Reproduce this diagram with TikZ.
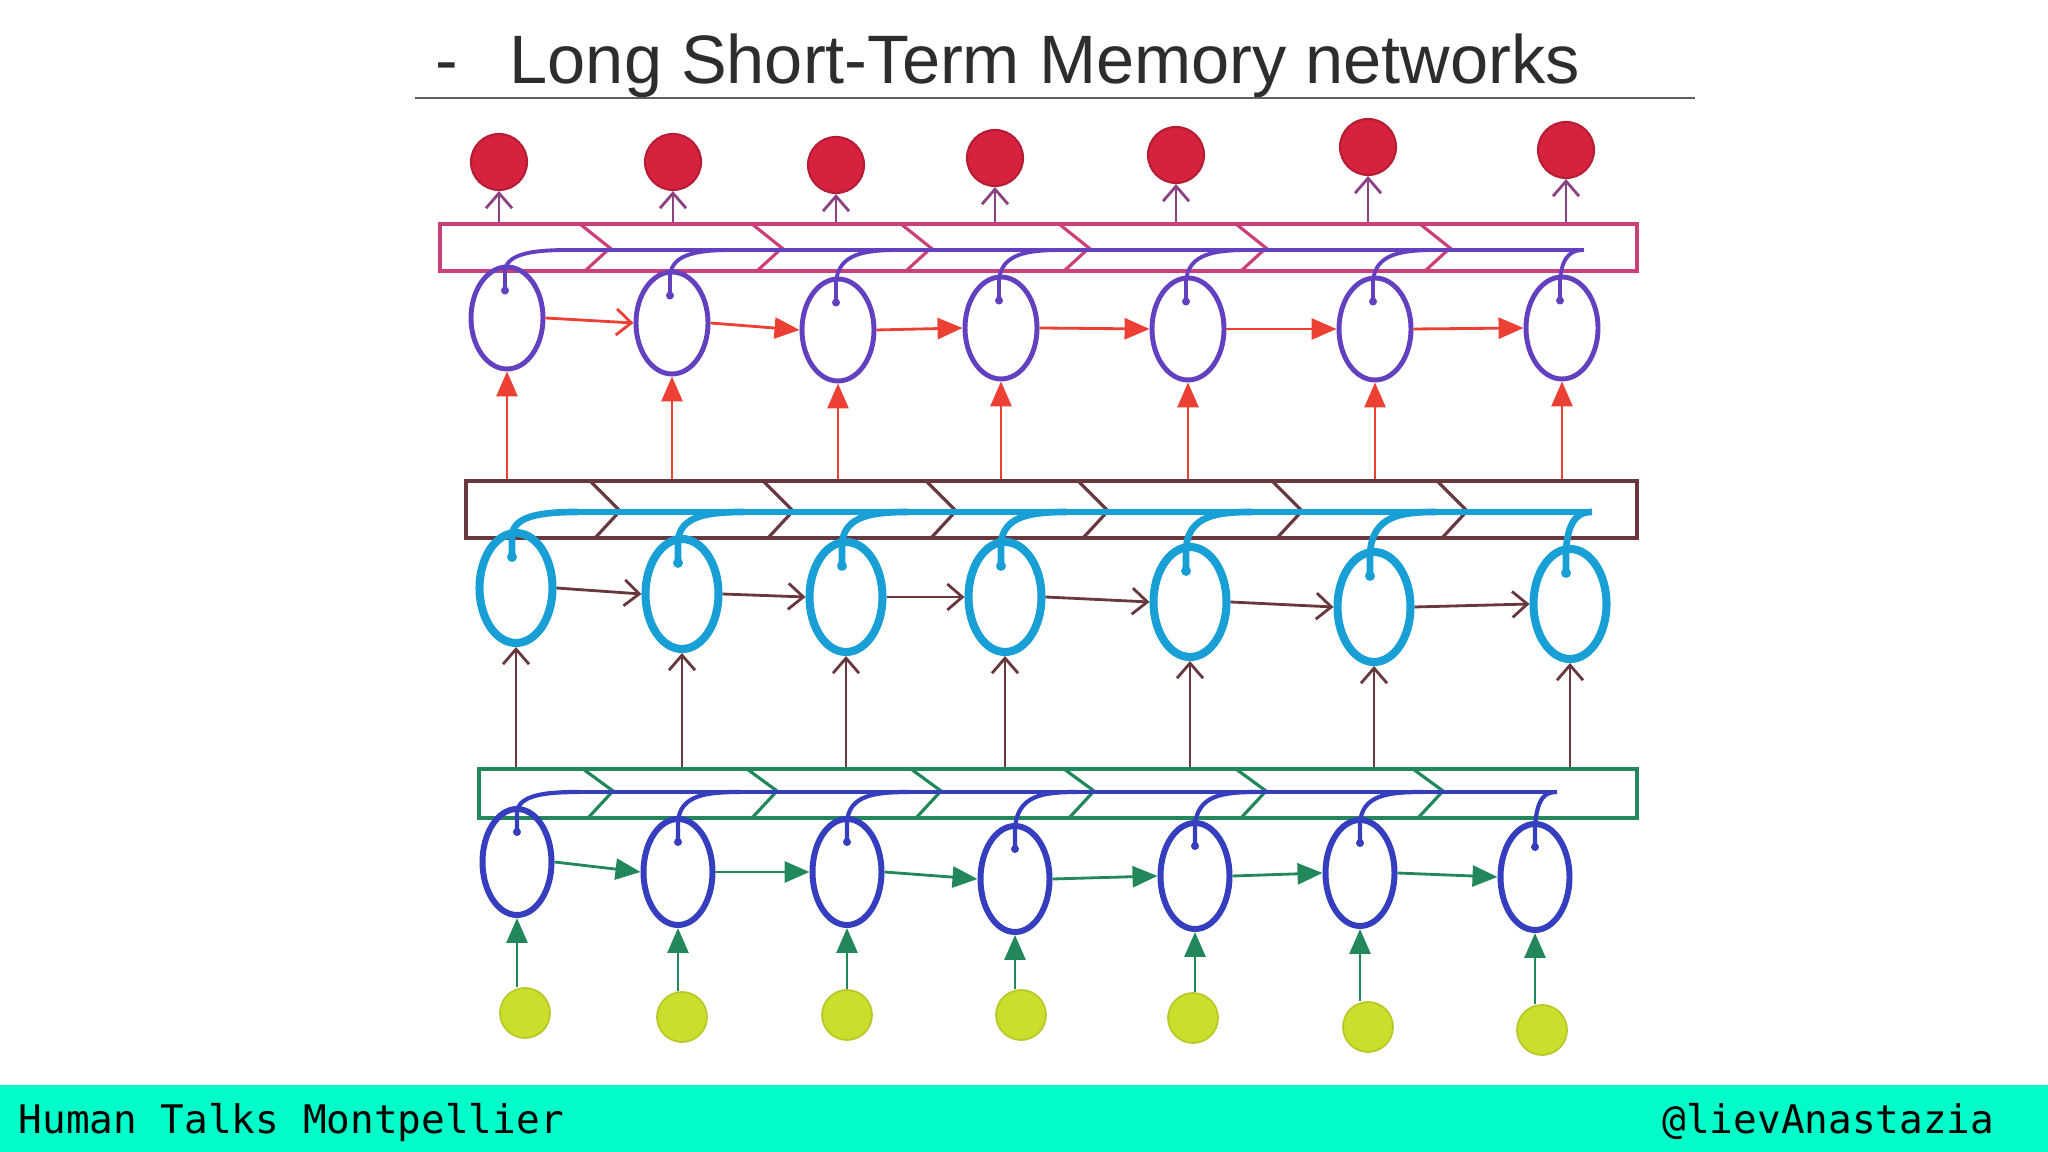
\documentclass[tikz,border=0pt]{standalone}
\usepackage{fontspec}
\setmainfont{Liberation Sans}
\newfontfamily\footfont{DejaVu Sans Mono}
\usetikzlibrary{calc,arrows.meta,shapes.geometric}

\definecolor{titlegray}{RGB}{45,45,45}
\definecolor{rulegray}{RGB}{95,95,95}
\definecolor{footteal}{RGB}{0,252,200}
\definecolor{outred}{RGB}{214,34,62}
\definecolor{barpink}{RGB}{204,64,122}
\definecolor{arrpurple}{RGB}{140,66,128}
\definecolor{cellpurple}{RGB}{98,64,192}
\definecolor{arrred}{RGB}{236,64,52}
\definecolor{midbrown}{RGB}{104,56,62}
\definecolor{cellcyan}{RGB}{24,160,214}
\definecolor{botgreen}{RGB}{34,136,92}
\definecolor{cellblue}{RGB}{52,62,190}
\definecolor{inyellow}{RGB}{204,222,44}

\tikzset{
	outball/.style={circle, fill=outred, draw=outred!85!black, line width=0.6pt, minimum size=5.6mm, inner sep=0pt},
	inball/.style={circle, fill=inyellow, draw=inyellow!90!black, line width=0.5pt, minimum size=5mm, inner sep=0pt},
	topcell/.style={ellipse, draw=cellpurple, line width=1.4pt, minimum width=7.2mm, minimum height=10.2mm, inner sep=0pt},
	midcell/.style={ellipse, draw=cellcyan, line width=2.3pt, minimum width=7.3mm, minimum height=11mm, inner sep=0pt},
	botcell/.style={ellipse, draw=cellblue, line width=1.7pt, minimum width=6.9mm, minimum height=10.6mm, inner sep=0pt},
	barbox/.style={rectangle, draw=#1, line width=1pt, inner sep=0pt},
	chevron/.style={draw=#1, line width=0.9pt},
	fillhead/.style={-{Triangle[length=2.5mm,width=2.1mm]}},
	openhead/.style={-{Straight Barb[length=1.5mm,width=2.6mm]}},
	link/.style={draw=#1, line width=0.8pt}
}

\begin{document}
\begin{tikzpicture}[x=0.1mm, y=-0.1mm]
	%%%%% START %%%%%
	\fill[white] (0,0) rectangle (2048,1152);
	\useasboundingbox (0,0) rectangle (2048,1152);
	
	\node[anchor=base west, inner sep=0pt, text=titlegray, font=\fontsize{19.35}{23}\selectfont] (bullet) at (435,84) {-};
	\node[anchor=base west, inner sep=0pt, text=titlegray, font=\fontsize{19.5}{23}\selectfont] (title) at (509,84) {Long Short-Term Memory networks};
	\draw[rulegray, line width=0.6pt] (415,98) -- (1695,98);
	
	% bars
	\node[barbox=barpink, minimum width=119.7mm, minimum height=4.7mm] (bartop) at (1038.5,247.5) {};
	\node[barbox=midbrown, minimum width=117.1mm, minimum height=5.7mm] (barmid) at (1051.5,509.5) {};
	\node[barbox=botgreen, minimum width=115.8mm, minimum height=4.9mm] (barbot) at (1058,793.5) {};
	
	\foreach \t in {610,782,931,1089,1266,1450}
		\draw[chevron=barpink] (\t-30,224) -- (\t,248) -- (\t-25,271);
	\foreach \t in {620,793,956,1108,1302,1467}
		\draw[chevron=midbrown] (\t-30,481) -- (\t,511) -- (\t-25,538);
	\foreach \t in {613,777,941,1094,1266,1443}
		\draw[chevron=botgreen] (\t-30,769) -- (\t,791) -- (\t-25,818);
	
	% cells
	\foreach \n/\x/\y in {1/499/162, 2/673/162, 3/836/165, 4/995/158, 5/1176/155, 6/1368/147, 7/1566/150}
		\node[outball] (out\n) at (\x,\y) {};
	\foreach \n/\x/\y in {1/507/318, 2/672/323, 3/838/330, 4/1001/328, 5/1188/329, 6/1375/329, 7/1562/328}
		\node[topcell] (top\n) at (\x,\y) {};
	\foreach \n/\x/\y in {1/516/588, 2/682/594, 3/846/597, 4/1005/597, 5/1190/602, 6/1374/607, 7/1570/604}
		\node[midcell] (mid\n) at (\x,\y) {};
	\foreach \n/\x/\y in {1/517/862, 2/678/872, 3/847/872, 4/1015/879, 5/1195/876, 6/1360/873, 7/1535/877}
		\node[botcell] (bot\n) at (\x,\y) {};
	\foreach \n/\x/\y in {1/525/1013, 2/682/1017, 3/847/1015, 4/1021/1015, 5/1193/1018, 6/1368/1027, 7/1542/1030}
		\node[inball] (in\n) at (\x,\y) {};
	
	% cell state lines
	\coordinate (mtop) at (0,250);
	\coordinate (mmid) at (0,512);
	\coordinate (mbot) at (0,792);
	\foreach \n/\o/\c in {1/62/28,2/62/28,3/62/28,4/62/28,5/62/28,6/62/28,7/22/12} {
		\fill[cellpurple] ($(top\n.north)+(-2,26)$) circle (4);
		\draw[cellpurple, line width=1.1pt] ($(top\n.north)+(-2,26)$) -- ($(top\n.north)+(-2,6)$) .. controls ($(top\n.north |- mtop)+(0,3)$) and ($(top\n.north |- mtop)+(\c,0)$) .. ($(top\n.north |- mtop)+(\o,0)$);
		\fill[cellcyan] ($(mid\n.north)+(-4,28)$) circle (5);
		\draw[cellcyan, line width=1.9pt] ($(mid\n.north)+(-4,28)$) -- ($(mid\n.north)+(-4,6)$) .. controls ($(mid\n.north |- mmid)+(-2,3)$) and ($(mid\n.north |- mmid)+(\c,0)$) .. ($(mid\n.north |- mmid)+(\o,0)$);
		\fill[cellblue] ($(bot\n.north)+(0,26)$) circle (4);
		\draw[cellblue, line width=1.2pt] ($(bot\n.north)+(0,26)$) -- ($(bot\n.north)+(0,6)$) .. controls ($(bot\n.north |- mbot)+(2,3)$) and ($(bot\n.north |- mbot)+(\c,0)$) .. ($(bot\n.north |- mbot)+(\o,0)$);
	}
	\draw[cellpurple, line width=1.1pt] ($(top1.north |- mtop)+(62,0)$) -- ($(top7.north |- mtop)+(22,0)$);
	\draw[cellcyan, line width=1.9pt] ($(mid1.north |- mmid)+(62,0)$) -- ($(mid7.north |- mmid)+(22,0)$);
	\draw[cellblue, line width=1.2pt] ($(bot1.north |- mbot)+(62,0)$) -- ($(bot7.north |- mbot)+(22,0)$);
	
	% arrows
	\foreach \n in {1,...,7} {
		\draw[link=arrpurple, openhead] (out\n.south |- bartop.north) -- (out\n.south);
		\draw[link=arrred, fillhead] (top\n.south |- barmid.north) -- (top\n.south);
		\draw[link=midbrown, openhead] (mid\n.south |- barbot.north) -- (mid\n.south);
		\draw[link=botgreen, fillhead] (bot\n.south |- in\n.north) -- (bot\n.south);
	}
	\foreach \n [count=\m from 2] in {1,...,6} {
		\ifnum\n=1
			\draw[link=arrred, openhead] (top\n.east) -- (top\m.west);
		\else
			\draw[link=arrred, fillhead] (top\n.east) -- (top\m.west);
		\fi
		\draw[link=midbrown, openhead] (mid\n.east) -- (mid\m.west);
		\draw[link=botgreen, fillhead] (bot\n.east) -- (bot\m.west);
	}
	
	% footer
	\fill[footteal] (0,1085) rectangle (2048,1152);
	\node[anchor=base west, inner sep=0pt, font=\footfont\fontsize{11.2}{13}\selectfont] (event) at (18,1133) {Human Talks Montpellier};
	\node[anchor=base east, inner sep=0pt, font=\footfont\fontsize{11.2}{13}\selectfont] (handle) at (1995,1133) {@lievAnastazia};
	%%%%% END %%%%%
\end{tikzpicture}
\end{document}
